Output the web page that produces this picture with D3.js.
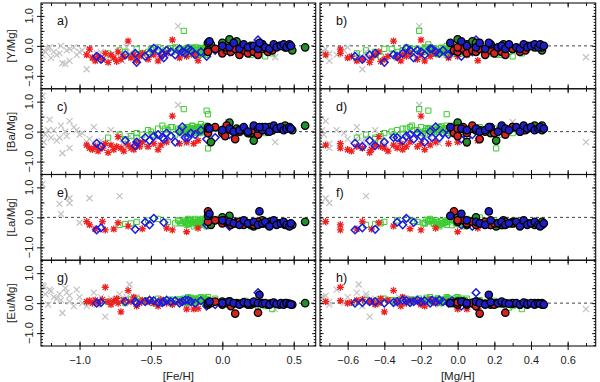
<!DOCTYPE html>
<html><head><meta charset="utf-8">
<script src="https://cdn.jsdelivr.net/npm/d3@7"></script>
<style>body{margin:0;background:#fff}svg{display:block;font-family:"Liberation Sans",Arial,Helvetica,sans-serif}</style>
</head><body><svg id="c" width="600" height="382"></svg>
<script>
// columns of every star row: [Fe/H], [Mg/H], [Y/Mg], [Ba/Mg], [La/Mg], [Eu/Mg]
const columns = ["FeH","MgH","Y","Ba","La","Eu"];

const grayCross = [
[-1.25,-0.88,-0.15,-0.35,null,0.55],[-1.26,-0.85,-0.30,1.19,1.11,0.60],[-1.21,-0.84,-0.05,0.40,null,0.45],
[-1.14,-0.78,-0.25,-0.20,0.45,0.30],[-1.13,-0.80,0.00,0.20,0.11,0.10],[-1.12,-0.76,-0.58,-0.72,null,-0.33],
[-1.07,-0.72,-0.10,0.35,0.64,0.25],[-1.07,-0.70,-0.50,-0.55,0.48,0.05],[-1.00,-0.73,-0.20,-0.10,-0.18,0.20],
[-1.02,-0.66,-0.30,0.05,null,0.45],[-0.93,-0.78,-0.12,-0.25,0.64,0.10],[-0.95,-0.52,-0.78,-0.35,null,-0.10],
[-0.90,-0.55,-0.40,0.15,null,0.35],[-0.85,-0.50,-0.20,-0.30,null,0.20],[-0.82,-0.48,-0.45,-0.50,null,-0.45],
[-0.78,-0.45,-0.30,0.05,null,0.15],[-0.72,-0.50,-0.35,-0.20,0.71,0.30],[-0.70,-0.40,-0.50,-0.40,null,0.10],
[-0.65,-0.54,-0.25,-0.15,null,0.62],[-0.60,-0.32,-0.40,-0.30,null,0.20],[-0.55,-0.28,-0.30,-0.50,null,0.10],
[-0.45,-0.15,-0.25,-0.20,null,0.05],[-0.31,-0.21,0.66,0.89,null,0.10],[-0.25,-0.10,-0.30,-0.40,null,-0.05],
[0.04,0.30,-0.10,0.32,null,0.00],[0.37,0.70,-0.38,-0.35,null,-0.20],[-1.20,-0.92,-0.40,-0.20,null,0.40],
[-1.10,-0.95,-0.60,0.00,null,0.50],[-1.18,-0.74,-0.20,0.05,null,0.20],[-0.98,-0.62,-0.15,-0.05,null,0.00],
[-0.67,-0.60,-0.05,-0.25,null,0.20],[-0.88,-0.70,-0.25,-0.40,null,-0.05],
[-1.24,-0.90,-0.20,-0.10,null,0.30],[-1.22,-0.86,-0.10,0.05,null,-0.05],[-1.16,-0.82,-0.30,-0.30,null,0.15],
[-1.09,-0.80,-0.15,-0.15,null,0.35],[-1.04,-0.78,-0.05,0.15,null,-0.10]
];

const greenSquare = [
[-0.80,-0.55,-0.25,-0.20,null,0.05],[-0.72,-0.50,-0.15,-0.10,-0.25,0.10],[-0.68,-0.45,-0.20,-0.25,-0.22,0.00],
[-0.64,-0.42,-0.35,-0.15,-0.20,0.12],[-0.60,-0.40,-0.10,-0.05,-0.15,0.15],[-0.56,-0.35,-0.25,-0.10,null,0.05],
[-0.52,-0.33,-0.20,0.05,-0.10,0.10],[-0.49,-0.30,-0.15,-0.10,null,0.00],[-0.45,-0.28,-0.05,0.10,-0.05,0.15],
[-0.42,-0.25,-0.25,0.20,null,0.05],[-0.38,-0.22,-0.10,0.05,-0.15,0.10],[-0.35,-0.20,-0.20,0.15,null,0.00],
[-0.33,-0.18,-0.05,-0.10,-0.20,0.08],[-0.31,-0.16,-0.15,0.10,-0.10,0.12],[-0.29,-0.14,-0.25,0.00,null,0.05],
[-0.27,-0.21,0.50,0.75,null,0.15],[-0.26,-0.12,-0.10,0.05,-0.15,0.10],[-0.25,-0.10,-0.20,0.15,-0.25,0.00],
[-0.24,-0.15,-0.05,0.10,-0.05,0.20],[-0.23,-0.08,-0.15,-0.05,-0.20,0.08],[-0.22,-0.12,-0.25,0.05,-0.10,0.05],
[-0.21,-0.06,-0.10,0.20,-0.15,0.15],[-0.20,-0.10,-0.18,0.00,-0.30,0.10],[-0.19,-0.04,-0.05,0.10,-0.05,0.00],
[-0.18,-0.08,-0.22,0.05,-0.20,0.12],[-0.17,-0.02,-0.12,0.15,-0.10,0.08],[-0.16,-0.06,-0.30,-0.05,-0.25,0.05],
[-0.15,0.00,-0.08,0.25,-0.15,0.20],[-0.14,-0.04,-0.20,0.10,-0.05,0.10],[-0.13,0.02,-0.15,0.00,-0.20,0.15],
[-0.12,-0.02,-0.05,0.20,-0.10,0.05],[-0.11,0.04,-0.25,0.05,-0.30,0.10],[-0.11,-0.16,0.05,0.70,null,0.10],
[-0.10,-0.06,0.00,0.58,null,0.20],[-0.10,0.21,-0.30,-0.56,null,-0.05],[-0.05,0.05,-0.10,0.10,-0.05,0.15],
[0.00,0.08,-0.20,0.05,-0.15,0.05],[0.05,0.12,-0.05,0.15,0.00,0.10],[0.08,0.15,-0.15,0.00,-0.20,-0.05],
[0.12,0.18,-0.25,-0.05,-0.25,0.00],[0.16,0.20,-0.10,0.10,-0.10,0.08],[0.20,0.24,-0.30,-0.10,-0.30,-0.05],
[0.25,0.28,-0.20,0.05,-0.15,-0.15],[0.30,0.30,-0.35,-0.05,-0.25,-0.10],[0.35,0.35,-0.25,0.00,null,-0.20],
[-0.30,-0.24,-0.10,0.05,-0.12,0.12],[-0.28,-0.19,-0.20,-0.05,-0.18,0.05],[-0.22,-0.17,-0.12,0.12,-0.08,0.18],
[-0.17,-0.13,-0.25,0.00,-0.22,0.10],[-0.13,-0.09,-0.08,0.08,-0.12,0.05],[-0.19,-0.11,-0.16,0.08,-0.16,0.14],
[-0.15,-0.07,-0.10,0.12,-0.18,0.06],[-0.12,-0.05,-0.18,0.02,-0.08,0.12],[-0.26,-0.16,-0.18,0.08,-0.14,0.09],
[-0.29,-0.18,-0.12,0.02,-0.20,0.06],[-0.27,-0.15,-0.22,0.10,-0.10,0.12],[-0.25,-0.13,-0.08,-0.02,-0.18,0.04],
[-0.24,-0.11,-0.28,0.14,-0.22,0.16],[-0.23,-0.14,-0.18,0.06,-0.12,0.10],[-0.21,-0.09,-0.06,0.18,-0.20,0.02],
[-0.20,-0.07,-0.24,0.08,-0.16,0.14],[-0.19,-0.06,-0.14,-0.04,-0.10,0.08],[-0.18,-0.03,-0.28,0.12,-0.26,0.06],
[-0.17,-0.05,-0.06,0.04,-0.14,0.16],[-0.16,-0.01,-0.20,0.16,-0.20,0.10],[-0.15,-0.03,-0.14,0.06,-0.08,0.04],
[-0.14,0.01,-0.26,-0.02,-0.24,0.12],[-0.13,-0.01,-0.10,0.14,-0.16,0.18],[-0.12,0.03,-0.20,0.10,-0.12,0.08],
[-0.11,0.00,-0.14,0.02,-0.20,0.14],[-0.60,-0.45,-0.30,-0.20,null,0.05],[-0.50,-0.36,-0.10,0.00,null,0.10],
[-0.40,-0.30,-0.15,0.10,null,0.05],[-0.36,-0.26,-0.08,0.15,null,0.12]
];

const redStar = [
[-0.95,-0.72,-0.30,-0.45,-0.14,0.05],[-0.93,-0.64,-0.11,-0.55,-0.25,0.08],[-0.91,-0.60,-0.40,-0.60,null,0.00],
[-0.89,-0.55,-0.50,-0.50,-0.39,0.10],[-0.87,-0.58,-0.35,-0.65,null,0.02],[-0.84,-0.52,-0.45,-0.55,-0.14,0.12],
[-0.82,-0.64,-0.25,-0.40,-0.42,0.53],[-0.80,-0.48,-0.55,-0.70,null,0.05],[-0.78,-0.45,-0.30,-0.45,null,-0.05],
[-0.76,-0.47,-0.40,-0.60,-0.39,0.08],[-0.74,-0.42,-0.52,-0.50,null,0.15],[-0.73,-0.43,-0.20,-0.17,-0.18,0.00],
[-0.71,-0.40,-0.45,-0.55,null,-0.29],[-0.69,-0.38,-0.35,-0.65,null,0.10],[-0.66,-0.35,0.16,-0.45,-0.29,0.42],
[-0.64,-0.33,-0.40,-0.55,null,0.05],[-0.62,-0.30,-0.30,-0.60,null,0.20],[-0.60,-0.31,-0.50,-0.40,null,-0.10],
[-0.58,-0.28,-0.35,-0.50,null,0.00],[-0.56,-0.26,-0.25,-0.35,-0.38,0.10],[-0.52,-0.22,-0.45,-0.50,null,0.05],
[-0.48,-0.20,-0.30,-0.40,null,0.00],[-0.43,-0.15,-0.35,-0.45,null,0.12],[-0.39,-0.12,-0.25,-0.35,-0.36,0.00],
[-0.35,-0.20,0.20,0.52,-0.42,-0.05],[-0.30,-0.05,-0.40,-0.40,null,0.05],[-0.25,0.00,-0.35,-0.35,-0.48,-0.20],
[-0.20,0.05,-0.30,-0.40,null,-0.20],[-0.17,0.11,-0.49,-0.30,-0.36,-0.18],[-0.45,-0.18,-0.50,-0.60,null,-0.10]
];

const blueDiamond = [
[-0.88,-0.56,-0.35,-0.39,-0.42,0.00],[-0.85,-0.52,-0.45,-0.50,-0.35,0.02],[-0.61,-0.45,-0.25,-0.47,-0.40,0.05],
[-0.60,-0.40,-0.55,-0.35,null,0.00],[-0.54,-0.33,-0.35,-0.20,-0.16,0.05],[-0.51,-0.30,-0.25,-0.30,-0.25,0.10],
[-0.48,-0.28,-0.08,-0.15,-0.03,0.08],[-0.45,-0.26,-0.15,-0.10,null,0.02],[-0.41,-0.24,-0.40,-0.25,-0.17,0.05],
[-0.39,-0.22,-0.15,-0.05,null,0.10],[-0.36,-0.20,-0.20,-0.15,null,0.05],[-0.33,-0.18,-0.30,-0.35,null,0.08],
[-0.30,-0.15,-0.10,0.00,null,0.00],[-0.28,-0.12,-0.20,0.16,null,0.05],[-0.26,-0.10,-0.25,-0.20,null,0.10],
[-0.22,-0.08,-0.15,-0.05,null,0.05],[-0.19,-0.05,-0.30,-0.10,null,0.00],[-0.15,-0.03,-0.20,0.05,null,0.08],
[-0.11,0.02,-0.35,-0.25,-0.25,-0.10],[0.25,0.10,0.20,0.05,null,0.35],[-0.68,-0.48,-0.30,-0.30,null,0.05],
[-0.42,-0.35,-0.30,-0.20,null,0.02],[-0.24,-0.14,-0.10,-0.20,null,0.10],[0.05,0.08,-0.20,-0.10,-0.30,0.00],
[-0.05,0.05,-0.15,-0.20,null,-0.05]
];

const greenCircle = [
[-0.08,0.05,0.05,-0.35,-0.25,0.00],[0.05,0.00,0.22,0.30,0.05,0.05],[0.10,0.08,0.15,0.10,-0.15,0.00],
[0.15,0.12,-0.10,0.05,-0.20,0.02],[0.20,0.18,0.00,-0.05,-0.25,-0.05],[0.22,0.21,-0.15,-0.30,-0.30,0.00],
[0.28,0.25,0.05,0.05,-0.10,0.00],[0.33,0.30,-0.10,0.15,-0.15,-0.02],[0.40,0.38,0.00,0.10,-0.20,-0.05],
[0.44,0.42,-0.05,0.20,-0.25,0.00],[0.49,0.46,-0.15,0.05,-0.25,-0.05],[0.58,0.46,-0.05,0.20,-0.15,0.00],
[0.00,0.10,0.10,0.05,0.00,0.05]
];

const redCircle = [
[-0.10,-0.02,-0.15,-0.05,0.20,0.00],[-0.10,0.00,-0.20,0.10,-0.15,-0.05],[-0.05,0.03,-0.10,0.15,-0.10,0.05],
[0.00,0.05,-0.25,-0.05,-0.20,-0.05],[0.03,0.08,-0.15,0.20,-0.15,0.00],[0.06,0.10,-0.20,0.05,-0.25,-0.10],
[0.09,0.12,-0.10,-0.25,-0.20,-0.35],[0.12,0.15,-0.30,0.00,-0.15,-0.02],[0.15,0.18,-0.15,0.10,-0.25,0.00],
[0.18,0.20,-0.25,-0.05,-0.20,-0.05],[0.22,0.24,-0.20,0.05,-0.25,0.00],[0.25,0.26,-0.30,-0.10,-0.15,-0.32],
[0.28,0.30,-0.10,0.15,-0.20,0.00],[0.32,0.34,-0.20,0.00,-0.25,-0.05],[0.35,0.37,-0.15,0.05,-0.20,0.00],
[0.02,0.00,-0.05,-0.15,-0.10,0.02]
];

const blueCircle = [
[-0.10,-0.04,0.10,0.15,0.05,0.00],[-0.09,0.02,0.15,0.10,0.12,0.05],[0.00,0.05,0.00,0.05,-0.10,0.00],
[0.05,0.10,-0.05,0.10,-0.15,0.05],[0.08,0.12,0.10,0.00,-0.20,0.00],[0.12,0.15,-0.10,0.05,-0.25,-0.05],
[0.15,0.18,0.05,0.15,-0.10,0.03],[0.18,0.22,-0.05,0.00,-0.20,0.00],[0.22,0.24,0.00,0.20,-0.15,0.05],
[0.25,0.26,-0.10,0.10,-0.25,0.00],[0.28,0.28,0.05,0.05,-0.20,-0.02],[0.30,0.32,-0.05,0.15,-0.15,0.00],
[0.33,0.34,-0.10,0.00,-0.30,-0.05],[0.36,0.36,0.05,0.20,-0.10,0.02],[0.38,0.38,-0.05,0.10,-0.25,-0.03],
[0.41,0.40,0.00,0.15,-0.20,0.00],[0.43,0.42,0.05,0.05,-0.15,-0.05],[0.45,0.44,-0.05,0.10,-0.25,0.00],
[0.47,0.45,0.05,0.15,-0.30,-0.02],[0.48,0.47,0.00,0.10,-0.20,-0.05],[0.26,0.17,0.10,0.15,0.20,0.28]
];

const elements = ["Y","Ba","La","Eu"];
const yTitles = ["[Y/Mg]","[Ba/Mg]","[La/Mg]","[Eu/Mg]"];
const panelLetters = [["a)","b)"],["c)","d)"],["e)","f)"],["g)","h)"]];
const xTitles = ["[Fe/H]","[Mg/H]"];
const xTickLabelsLeft = [-1.0,-0.5,0.0,0.5];
const xTickLabelsRight = [-0.6,-0.4,-0.2,0.0,0.2,0.4,0.6];
const yTickLabels = [-1.0,0.0,1.0];

// ---- layout ----
const svg = d3.select("#c");
const top0 = 3, rowH = 85.75;
const xScales = [
  d3.scaleLinear().domain([-1.27,0.654]).range([41,315.7]),
  d3.scaleLinear().domain([-0.751,0.753]).range([320,595.7])
];
const yDomain = [-1.43,1.43];
const fmt = v => (v<0?"\u2212":"") + Math.abs(v).toFixed(1);
const minorX = [d3.range(-12,7).map(v=>v/10), d3.range(-7,8).map(v=>v/10)];
const majorX = [xTickLabelsLeft, xTickLabelsRight];
const minorY = d3.range(-14,15).map(v=>v/10);
const majorY = [-1,-0.5,0,0.5,1];

const sym = {
  times: s => `M${-s},${-s}L${s},${s}M${-s},${s}L${s},${-s}`,
  star: s => { const a = s*0.75; return `M0,${-s}L0,${s}M${-s},0L${s},0M${-a},${-a}L${a},${a}M${-a},${a}L${a},${-a}`; },
  diamond: s => `M0,${-s}L${s},0L0,${s}L${-s},0Z`,
  square: s => `M${-s},${-s}H${s}V${s}H${-s}Z`
};

const groups = [
  {data: grayCross, kind:"path", d: sym.times(3), stroke:"#c4c4c4", fill:"none", sw:1.3},
  {data: greenSquare, kind:"path", d: sym.square(2.6), stroke:"#3ccc32", fill:"none", sw:1},
  {data: redStar, kind:"path", d: sym.star(3.5), stroke:"#ee2020", fill:"none", sw:1.3},
  {data: blueDiamond, kind:"path", d: sym.diamond(3.8), stroke:"#1c1cdc", fill:"none", sw:1.5},
  {data: greenCircle, kind:"circle", r:3.7, stroke:"#000", fill:"#23912a", sw:1.3},
  {data: redCircle, kind:"circle", r:3.7, stroke:"#000", fill:"#d52222", sw:1.3},
  {data: blueCircle, kind:"circle", r:3.7, stroke:"#000", fill:"#1e1ec8", sw:1.3}
];

const defs = svg.append("defs");

elements.forEach((el, r) => {
  const y0 = top0 + r*rowH, y1 = y0 + rowH;
  const y = d3.scaleLinear().domain(yDomain).range([y1, y0]);
  const col = columns.indexOf(el);
  [0,1].forEach(c => {
    const x = xScales[c];
    const [xa, xb] = x.range();
    const id = `clip${r}${c}`;
    defs.append("clipPath").attr("id", id).append("rect")
      .attr("x", xa).attr("y", y0).attr("width", xb-xa).attr("height", rowH);
    const g = svg.append("g").attr("clip-path", `url(#${id})`);
    g.append("line").attr("x1", xa).attr("x2", xb).attr("y1", y(0)).attr("y2", y(0))
      .attr("stroke", "#444").attr("stroke-width", 1).attr("stroke-dasharray", "3,3");
    groups.forEach(gr => {
      const pts = gr.data.filter(d => d[col] !== null);
      if (gr.kind === "circle") {
        g.append("g").selectAll("circle").data(pts).join("circle")
          .attr("cx", d => x(d[c])).attr("cy", d => y(d[col])).attr("r", gr.r)
          .attr("fill", gr.fill).attr("stroke", gr.stroke).attr("stroke-width", gr.sw);
      } else {
        g.append("g").selectAll("path").data(pts).join("path")
          .attr("transform", d => `translate(${x(d[c])},${y(d[col])})`).attr("d", gr.d)
          .attr("fill", gr.fill).attr("stroke", gr.stroke).attr("stroke-width", gr.sw);
      }
    });
    svg.append("rect").attr("x", xa).attr("y", y0).attr("width", xb-xa).attr("height", rowH)
      .attr("fill", "none").attr("stroke", "#111").attr("stroke-width", 1.1);
    const tickAxis = (axisFn, scale, vals, size, tr) => {
      const a = svg.append("g").attr("transform", tr)
        .call(axisFn(scale).tickValues(vals).tickSize(size).tickFormat(""));
      a.select(".domain").remove();
      a.selectAll("line").attr("stroke", "#111");
    };
    tickAxis(d3.axisBottom, x, minorX[c], -3, `translate(0,${y1})`);
    tickAxis(d3.axisBottom, x, majorX[c], -4.5, `translate(0,${y1})`);
    tickAxis(d3.axisTop, x, minorX[c], -3, `translate(0,${y0})`);
    tickAxis(d3.axisTop, x, majorX[c], -4.5, `translate(0,${y0})`);
    tickAxis(d3.axisLeft, y, minorY, -2, `translate(${xa},0)`);
    tickAxis(d3.axisLeft, y, majorY, -3.5, `translate(${xa},0)`);
    tickAxis(d3.axisRight, y, minorY, -2, `translate(${xb},0)`);
    tickAxis(d3.axisRight, y, majorY, -3.5, `translate(${xb},0)`);
    svg.append("text").attr("x", xa + 16).attr("y", y0 + 22).attr("font-size", 12.5)
      .attr("fill", "#111").text(panelLetters[r][c]);
    if (c === 0) {
      const la = svg.append("g").attr("transform", `translate(${xa},0)`)
        .call(d3.axisLeft(y).tickValues(yTickLabels).tickSize(4).tickFormat(""));
      la.select(".domain").remove();
      la.selectAll("line").attr("stroke", "#111");
      svg.append("g").selectAll("text").data(yTickLabels).join("text")
        .attr("transform", v => `translate(29,${y(v)}) rotate(-90)`)
        .attr("text-anchor", "middle").attr("dy", "0.35em")
        .attr("font-size", 11).attr("fill", "#222").text(fmt);
      svg.append("text").attr("transform", `translate(11,${(y0+y1)/2}) rotate(-90)`)
        .attr("text-anchor", "middle").attr("dy", "0.35em")
        .attr("font-size", 11.5).attr("fill", "#222").text(yTitles[r]);
    }
    if (r === elements.length - 1) {
      const ba = svg.append("g").attr("transform", `translate(0,${y1})`)
        .call(d3.axisBottom(x).tickValues(majorX[c]).tickSize(4).tickPadding(6).tickFormat(fmt));
      ba.select(".domain").remove();
      ba.selectAll("line").attr("stroke", "#111");
      ba.selectAll("text").attr("font-size", 11).attr("fill", "#222")
        .attr("font-family", "'Liberation Sans',Arial,sans-serif");
      svg.append("text").attr("x", (xa+xb)/2).attr("y", 380)
        .attr("text-anchor", "middle").attr("font-size", 11.5).attr("fill", "#222").text(xTitles[c]);
    }
  });
});
</script></body></html>
